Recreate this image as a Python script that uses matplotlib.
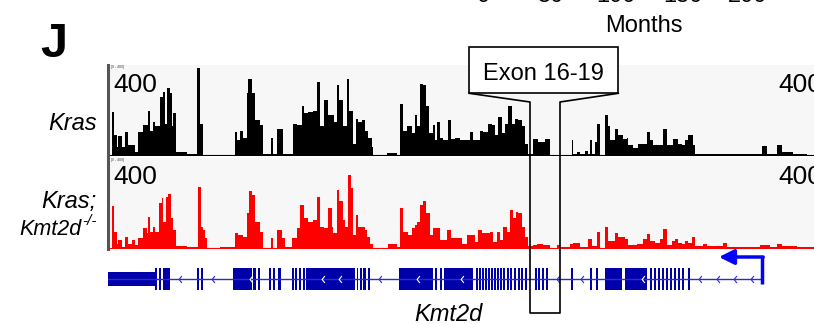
import matplotlib.pyplot as plt
from matplotlib.path import Path

plt.rcParams['font.family'] = ['Liberation Sans', 'DejaVu Sans']

# coverage as bedGraph-like steps: start position (kb, 0..706) and read depth
kras_start = [0, 3.7, 6, 8.7, 10.3, 13.7, 17, 20.3, 27, 30.3, 35.3, 40.3, 42, 45.3, 47,
              52, 55.3, 57, 58.7, 62, 63.7, 65.3, 68, 78.7, 88.7, 92, 95.3, 127, 128.7,
              132, 135.3, 138.7, 140.3, 143.7, 147, 152, 155.3, 162.7, 165.3, 168.7,
              174.7, 184.7, 188.7, 193.7, 196, 200.3, 205.3, 209.3, 212, 216, 220.3,
              226, 228.7, 231.3, 234.7, 238.7, 241.3, 244.7, 248, 250.3, 253.7, 257,
              260.3, 263.7, 265.3, 278.7, 288.7, 292, 294.7, 298.7, 303.7, 307, 309.3,
              312, 315.3, 318, 321.3, 324.7, 327, 329.3, 332, 335.3, 340.3, 342.7, 347,
              352, 362, 365.3, 372, 375.3, 380.3, 383.7, 387, 390.3, 393.7, 397, 400.3,
              403.7, 407, 410.3, 413.7, 417, 420.3, 425.3, 430.3, 437, 442, 463.7,
              465.3, 468.7, 472, 477, 480.3, 482, 484.3, 487, 489.3, 492, 497, 500.3,
              502, 507, 510.3, 515.3, 518.7, 520.3, 525.3, 530.3, 538.7, 542, 545.3,
              555.3, 558.7, 565.3, 570.3, 573.7, 577, 580.3, 585.3, 587, 653.7, 658.7,
              668.7, 673.7, 685.3, 698.7]
kras_depth = [0, 195, 90, 37, 85, 37, 105, 45, 15, 105, 135, 200, 110, 150, 130,
              260, 285, 140, 300, 280, 130, 190, 15, 8, 390, 140, 3, 105, 68,
              110, 80, 280, 340, 280, 160, 135, 8, 80, 8, 120,
              8, 140, 135, 220, 190, 195, 200, 330, 130, 250, 180,
              150, 315, 250, 130, 340, 200, 50, 165, 150, 160, 110,
              80, 37, 3, 10, 3, 230, 110, 130, 100, 180, 130,
              320, 315, 220, 100, 135, 68, 150, 80, 68, 160, 75, 80,
              68, 105, 68, 110, 105, 140, 135, 90, 170, 100, 140, 220,
              140, 165, 160, 130, 50, 8, 75, 60, 75, 3, 68,
              5, 15, 8, 22, 5, 70, 5, 60, 140, 3, 180, 130,
              68, 120, 90, 75, 80, 45, 35, 50, 105, 68, 45,
              120, 45, 75, 50, 45, 68, 90, 45, 8, 40, 8,
              45, 15, 5, 2]

ko_start = [0, 3.7, 6, 8.7, 10.3, 13.7, 17, 20.3, 23.7, 27, 30.3, 35.3, 38.7, 40.3, 42,
            45.3, 47, 51.3, 53.7, 55.3, 58, 60.3, 62.7, 65.3, 68, 78.7, 90.3, 92.7, 94.7,
            97, 98.7, 112, 127, 130.3, 135.3, 138.7, 141, 144.3, 147, 152, 155.3, 162.7,
            165.3, 168.7, 173.7, 177, 183.7, 188.7, 192, 196, 200.3, 205.3, 208.7, 212,
            216, 220.3, 223.7, 225.3, 228.7, 231.3, 234.7, 237, 240.3, 242.7, 245.3,
            248, 250.3, 257, 259.3, 262, 264.7, 280.3, 288.7, 292, 295.3, 300.3, 303.7,
            307, 309.3, 312, 314.7, 318, 322, 325.3, 332, 338.7, 342.7, 353.7, 358.7,
            367, 370.3, 373.7, 382, 385.3, 388.7, 392, 395.3, 398.7, 402, 404.7, 407.7,
            410.3, 413.7, 417, 420.3, 425.3, 428.7, 435.3, 442, 448.7, 452, 462, 465.3,
            472, 480.3, 483.7, 488.7, 492, 497, 500.3, 507, 510.3, 517, 520.3, 528.7,
            535.3, 538.7, 542, 547, 552, 555.3, 559.3, 563.7, 567, 570.3, 573.7, 577,
            580.3, 583.7, 587, 595.3, 598.7, 615.3, 618.7, 652, 662, 668.7, 673.7,
            688.7]
ko_depth = [0, 188, 75, 22, 37, 8, 52, 22, 37, 15, 45, 90, 68, 142, 75,
            98, 75, 202, 225, 120, 232, 243, 135, 82, 12, 8, 275, 98, 82,
            45, 3, 5, 68, 60, 52, 158, 255, 240, 120, 75, 3, 45,
            3, 82, 45, 5, 45, 90, 195, 135, 120, 128, 232, 98,
            90, 180, 98, 68, 262, 210, 128, 98, 330, 270, 60,
            150, 98, 82, 52, 22, 3, 18, 8, 180, 75, 60, 90,
            105, 120, 195, 210, 158, 60, 90, 37, 82, 45, 22, 60,
            30, 82, 68, 75, 30, 75, 37, 98, 75, 172, 135, 162,
            158, 98, 52, 12, 15, 22, 15, 3, 15, 5, 20, 25,
            5, 42, 12, 75, 3, 95, 35, 70, 50, 42, 15, 22,
            42, 65, 35, 25, 42, 88, 15, 35, 42, 25, 22, 35,
            25, 50, 12, 22, 10, 25, 8, 15, 5, 22, 12,
            6]

track_end = 706
track_names = ['Kras', 'Kras;']
track_colors = ['black', '#ff0000']
scale_max = 400

# Kmt2d gene model (kb, same coordinates as the tracks)
utr = (0, 47)
exon_start = [47, 51, 55, 89, 93, 125, 145, 150, 161, 165, 170, 184, 187, 191, 195, 198,
              249, 252, 255, 260, 291, 327, 332, 336,
              368, 371, 374, 377, 380, 383, 386, 389, 392, 395, 399, 402, 406, 410, 413, 417,
              427, 430, 434, 438, 463, 482, 488, 497, 517,
              542, 546, 550, 554, 558, 562, 566, 570, 574, 580]
exon_end = [49, 53, 62, 91, 95, 144, 148, 152, 163, 167, 173, 186, 189, 193, 197, 247,
            250, 254, 258, 262, 325, 329, 334, 365,
            369.5, 372.5, 375.5, 378.5, 381.5, 384.5, 387.5, 390.5, 393.5, 396.5, 400.5,
            403.5, 407.5, 411.5, 414.5, 418.5,
            428.5, 431.5, 435.5, 439.5, 464.5, 483.5, 489.5, 514, 539,
            543.5, 547.5, 551.5, 555.5, 559.5, 563.5, 567.5, 571.5, 575.5, 581.5]
chevrons = [72, 105, 143, 215, 232, 272, 310, 354, 450, 474, 535, 592, 610, 627, 644]
tss = 654

W, H = 814, 324
fig = plt.figure(figsize=(W / 100, H / 100), dpi=100)


def px_axes(x0, y0, x1, y1, **kw):
    return fig.add_axes([x0 / W, 1 - y1 / H, (x1 - x0) / W, (y1 - y0) / H], **kw)


track_boxes = [(65, 156), (158, 249)]
track_data = [(kras_start, kras_depth), (ko_start, ko_depth)]
for (y0, y1), (starts, depth), col in zip(track_boxes, track_data, track_colors):
    ax = px_axes(108, y0, 814, y1)
    ax.set_facecolor('#f7f7f7')
    ax.stairs(depth, starts + [track_end], fill=True, color=col, baseline=0, lw=0)
    ax.axhline(0, color=col, lw=0.8)
    ax.set_xlim(0, track_end)
    ax.set_ylim(-2.5, 404.5)
    for s in ['top', 'right', 'bottom']:
        ax.spines[s].set_visible(False)
    ax.spines['left'].set_color('#555555')
    ax.spines['left'].set_linewidth(2.2)
    ax.set_xticks([])
    ax.set_yticks([])
    ax.text(0.004, 0.995, '[0 - 400]', transform=ax.transAxes, fontsize=2.5,
            va='top', color='#444444')

# gene model
gx = px_axes(108, 266, 814, 310)
gx.set_facecolor('#f5f5f5')
gx.set_xlim(0, track_end)
gx.set_ylim(310, 266)
gx.axis('off')
gx.patch.set_visible(True)
blue = '#0000aa'
gx.plot([0, tss], [279, 279], color='#2a2ad0', lw=1.0)
gx.fill_between(utr, 272, 286, color=blue, lw=0)
for s, e in zip(exon_start, exon_end):
    gx.fill_between([s, e], 268, 290, color=blue, lw=0)
chev = Path([(0.4, 1), (-0.4, 0), (0.4, -1)], [Path.MOVETO, Path.LINETO, Path.LINETO])
for c in chevrons:
    inside = any(s <= c <= e for s, e in zip(exon_start, exon_end))
    gx.plot([c], [279], marker=chev, ms=5, mfc='none', mew=0.8,
            mec='white' if inside else '#2a2ad0', ls='none')
gx.plot([tss, tss], [284, 257], color='#0000ff', lw=2.5, clip_on=False,
        solid_capstyle='butt')
gx.annotate('', xy=(611, 257), xytext=(tss + 1.2, 257), annotation_clip=False,
            arrowprops=dict(arrowstyle='-|>,head_length=0.9,head_width=0.45',
                            color='#0000ff', lw=2.5, shrinkA=0, shrinkB=0))

# overlay for labels and the exon callout, in pixel units
ov = fig.add_axes([0, 0, 1, 1], facecolor='none')
ov.set_xlim(0, W)
ov.set_ylim(H, 0)
ov.axis('off')

ov.text(40, 57, 'J', fontsize=35, fontweight='bold', va='baseline')
# survival-plot x axis of the panel above, mostly cut off by the crop
for x, lab in zip([483, 550, 616, 683, 748], ['0', '50', '100', '150', '200']):
    ov.text(x, 2.2, lab, fontsize=17, ha='center', va='baseline')
ov.text(644, 31.7, 'Months', fontsize=17, ha='center', va='baseline')

ov.text(97, 130, track_names[0], fontsize=17, style='italic', ha='right', va='baseline')
ov.text(97, 208, track_names[1], fontsize=17, style='italic', ha='right', va='baseline')
ov.text(82, 235, 'Kmt2d', fontsize=15.5, style='italic', ha='right', va='baseline')
ov.text(82, 225, '-/-', fontsize=11, style='italic', ha='left', va='baseline')
ov.text(448, 321, 'Kmt2d', fontsize=17, style='italic', ha='center', va='baseline')

for base in [92, 184]:
    ov.text(113, base, str(scale_max), fontsize=19, va='baseline')
    ov.text(778, base, str(scale_max), fontsize=19, va='baseline')

# exon 16-19 callout
ov.add_patch(plt.Rectangle((469.3, 47.3), 149, 46, fc='white', ec='black', lw=1.2))
ov.text(543.5, 79.5, 'Exon 16-19', fontsize=17, ha='center', va='baseline')
ov.plot([469.3, 530, 530, 560, 560, 618.3], [93.3, 102, 313, 313, 102, 93.3],
        color='black', lw=1.2)

fig.savefig('out.png', dpi=100)
